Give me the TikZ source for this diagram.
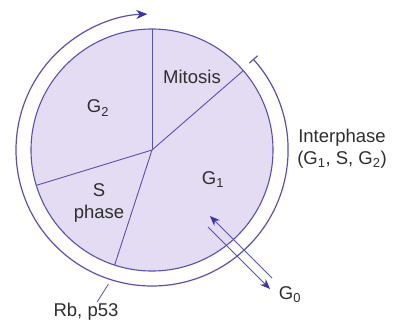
\documentclass[tikz,border=0pt]{standalone}
\usepackage{fontspec}
\setmainfont{Liberation Sans}
\usetikzlibrary{arrows.meta}
\definecolor{zyklusfill}{HTML}{E4DCF2}
\definecolor{zykluslinie}{HTML}{5A50B0}
\definecolor{pfeilblau}{HTML}{3B32A6}
\definecolor{textgrau}{HTML}{2E2E2E}

\tikzset{
    beschriftung/.style={font=\fontsize{18.5}{22}\selectfont, text=textgrau, inner sep=1pt},
    pfeil/.style={zykluslinie, line width=1pt, -{Stealth[length=10pt,width=8pt,color=pfeilblau]}}
}

\begin{document}
\begin{tikzpicture}[x=1pt,y=1pt]
\def\R{121}  % Radius Zellzyklus
\def\Ra{136} % Radius Interphase-Bogen
\useasboundingbox (-152,-177) rectangle (247,150);

% =========================================================
% Zellzyklus (Kreis mit Phasen)
% =========================================================
\coordinate (M) at (0,0);
\fill[zyklusfill] (M) circle (\R);
\draw[zykluslinie, line width=1.1pt] (M) circle (\R);
% Trennlinien der Phasen
\foreach \w in {90,41,197,252}
    \draw[zykluslinie, line width=0.9pt] (M) -- (\w:\R);

% Phasen
\node[beschriftung] (mitose) at (40,73) {Mitosis};
\node[beschriftung] (gzwei) at (-54,42) {G\textsubscript{2}};
\node[beschriftung] (geins) at (61,-30) {G\textsubscript{1}};
\node[beschriftung, align=center] (sphase) at (-53,-53) {S\\phase};

% =========================================================
% Interphase-Bogen (aussen)
% =========================================================
\draw[zykluslinie, line width=1.2pt, {Bar[width=11pt]}-{Stealth[length=11pt,width=9pt,color=pfeilblau]}]
    (42:\Ra) arc[start angle=42, end angle=-268, radius=\Ra];
\node[beschriftung, align=center] (inter) at (190,1) {Interphase\\(G\textsubscript{1}, S, G\textsubscript{2})};

% =========================================================
% G0 (Ruhephase)
% =========================================================
\node[beschriftung] (gnull) at (138,-145) {G\textsubscript{0}};
\coordinate (ginA) at (58,-66);
\coordinate (goutA) at (120,-128);
\coordinate (ginB) at (56,-77);
\coordinate (goutB) at (118,-139);
\draw[pfeil] (goutA) -- (ginA);
\draw[pfeil] (ginB) -- (goutB);

% Rb, p53
\node[beschriftung] (rb) at (-66,-162) {Rb, p53};
\coordinate (rbspitze) at (252:141);
\draw[zykluslinie, line width=0.8pt] ([xshift=11pt]rb.north) -- (rbspitze);

\end{tikzpicture}
\end{document}
